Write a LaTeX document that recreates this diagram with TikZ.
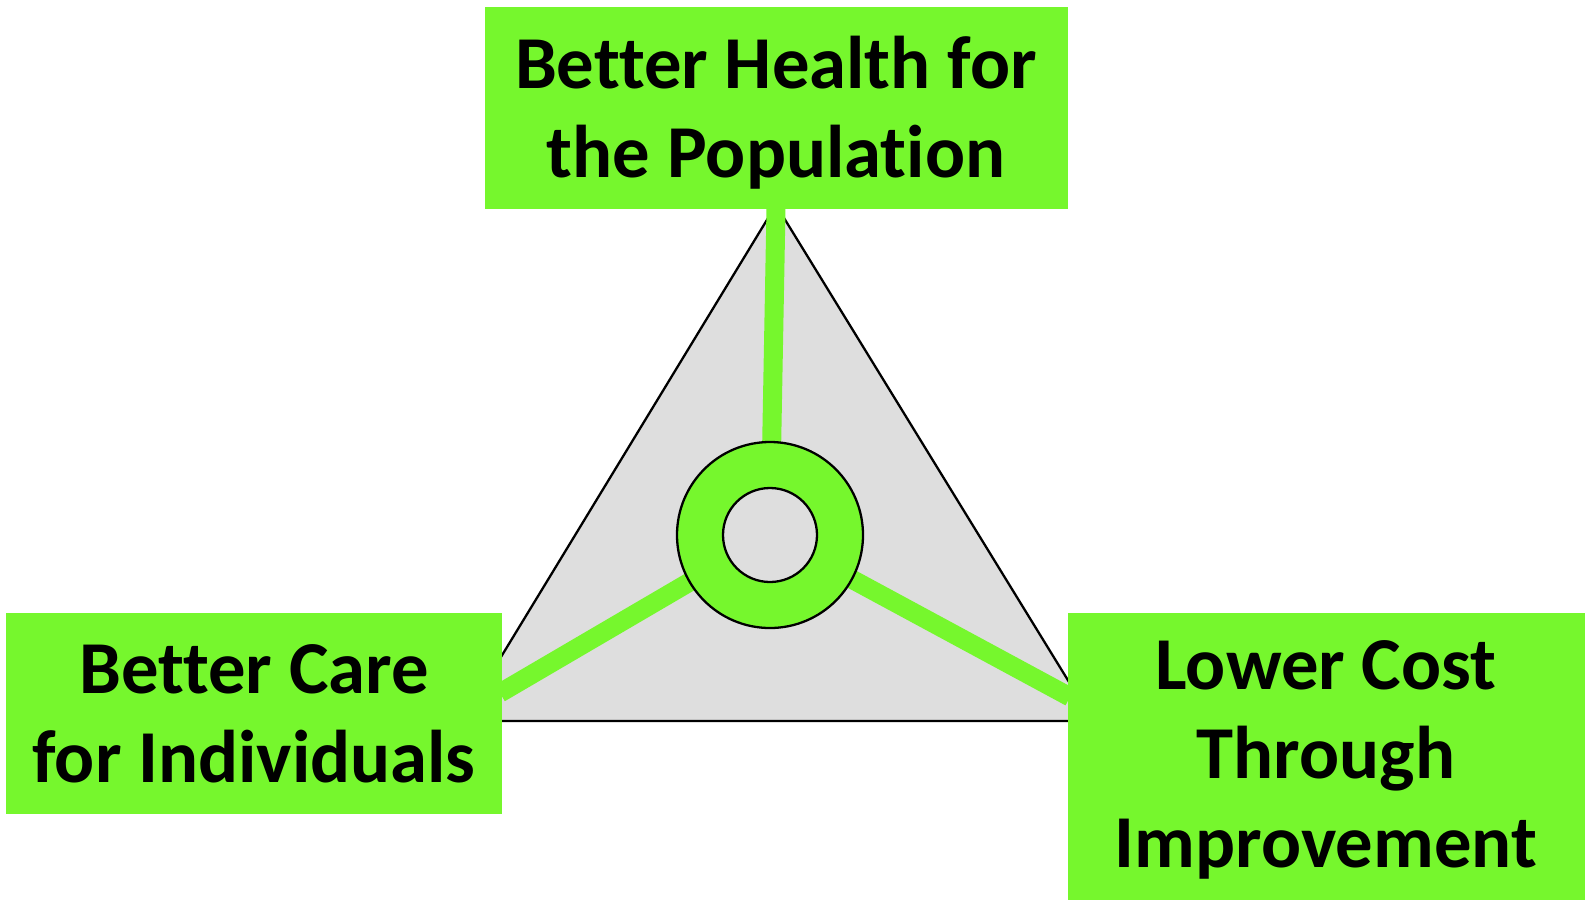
\documentclass[tikz,border=0pt]{standalone}
\usepackage{fontspec}
\setmainfont[Ligatures=NoCommon]{Carlito}
\definecolor{vgreen}{RGB}{118,247,45}
\definecolor{tgray}{RGB}{222,222,222}
\begin{document}
\begin{tikzpicture}[x=0.02cm,y=-0.02cm,
  gbox/.style={fill=vgreen,draw=none,inner sep=0pt,align=center,
    font=\fontsize{42.5}{50.5}\selectfont\bfseries},
  band/.style={draw=vgreen,line width=19*0.02cm}]
\useasboundingbox (0,0) rectangle (1585,900);
\fill[white] (0,0) rectangle (1585,900);
% triangle
\coordinate (A) at (776,205);
\coordinate (B) at (462,721);
\coordinate (C) at (1093,721);
\draw[fill=tgray,line width=1.3pt] (A) -- (B) -- (C) -- cycle;
% center
\coordinate (O) at (770,535);
\coordinate (topend) at (776,208);
\coordinate (leftend) at (500,693);
\coordinate (rightend) at (1070,697);
\draw[band] (O) -- (topend);
\draw[band] (O) -- (leftend);
\draw[band] (O) -- (rightend);
\node[circle,draw=black,line width=1.3pt,fill=vgreen,minimum size=186*0.02cm,inner sep=0pt] (ring) at (O) {};
\node[circle,draw=black,line width=1.3pt,fill=tgray,minimum size=94*0.02cm,inner sep=0pt] (hole) at (O) {};
% boxes
\fill[vgreen] (485,7) rectangle (1068,209);
\fill[vgreen] (6,613) rectangle (502,814);
\fill[vgreen] (1068,613) rectangle (1585,900);
\node[gbox] (top) at (776,113) {Better Health for\\the Population};
\node[gbox] (left) at (254,714) {Better Care\\for Individuals};
\node[gbox] (right) at (1326,760) {Lower Cost\\Through\\Improvement};
\end{tikzpicture}
\end{document}
